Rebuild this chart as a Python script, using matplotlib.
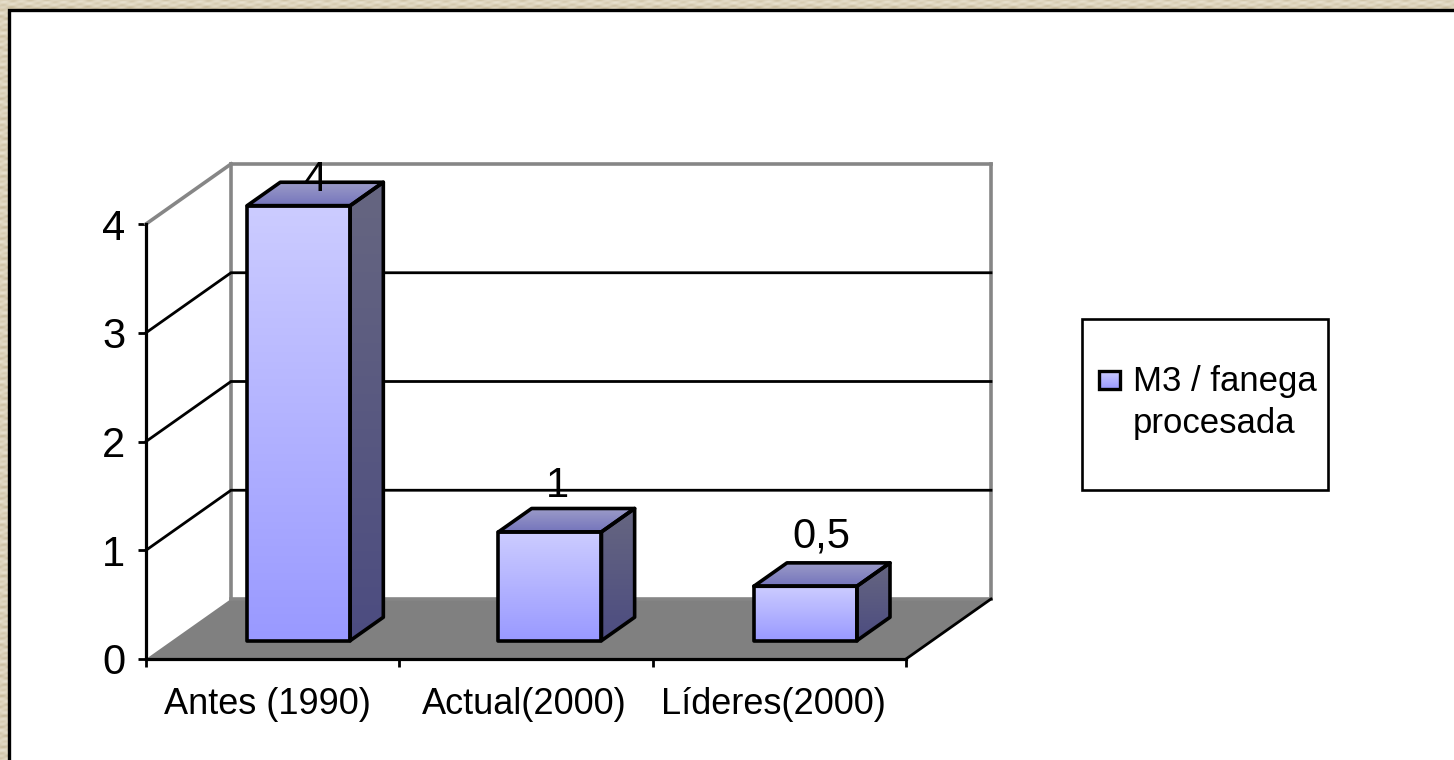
import numpy as np
import matplotlib
matplotlib.use("Agg")
import matplotlib.pyplot as plt
from matplotlib.patches import Polygon, Rectangle
from matplotlib.colors import LinearSegmentedColormap
from matplotlib.transforms import ScaledTranslation

categories = ["Antes (1990)", "Actual(2000)", "Líderes(2000)"]
values = [4, 1, 0.5]
value_labels = ["4", "1", "0,5"]
y_ticks = [0, 1, 2, 3, 4]
series_name = ["M3 / fanega", "procesada"]

W, H = 1454, 760
plt.rcParams["font.family"] = ["Liberation Sans", "DejaVu Sans"]
fig = plt.figure(figsize=(W / 100, H / 100), dpi=100)

# page background, frame and legend, in pixel units
bg = fig.add_axes([0, 0, 1, 1])
bg.axis("off")
xx, yy = np.meshgrid(np.arange(W), np.arange(H))
tex = (np.sin(xx * 0.37 + yy * 0.11) * np.sin(yy * 1.1 + xx * 0.05) + np.sin(yy * 0.63) * 0.6)
bg.imshow(tex, cmap=LinearSegmentedColormap.from_list("paper", ["#c9bc9e", "#dcd2ba", "#e8e1cf"]),
          extent=(0, W, H, 0), aspect="auto", zorder=0)
bg.add_patch(Rectangle((8.5, 9.5), W + 20, H + 20, fc="white", ec="black", lw=2.4, zorder=1))
bg.add_patch(Rectangle((1082, 318.5), 246, 171, fc="white", ec="black", lw=1.9, zorder=2))
bg.imshow(np.linspace(0, 1, 64).reshape(-1, 1),
          cmap=LinearSegmentedColormap.from_list("sw", ["#ccccff", "#9999ff"]),
          extent=(1099, 1120, 389, 371), aspect="auto", zorder=3)
bg.add_patch(Rectangle((1099, 371), 21, 18, fc="none", ec="black", lw=2.4, zorder=4))
bg.set_xlim(0, W)
bg.set_ylim(H, 0)
bg.text(1133, 381, series_name[0], fontsize=25, va="center", ha="left", color="black", zorder=5)
bg.text(1133, 424, series_name[1], fontsize=25, va="center", ha="left", color="black", zorder=5)

# chart: the axes is the front plane of the oblique 3-D box
left, right, base, top = 146, 906, 659, 224
ax = fig.add_axes([left / W, 1 - base / H, (right - left) / W, (base - top) / H])
ax.patch.set_alpha(0)
n = len(categories)
ymax = max(y_ticks)

DX = 85 / ((right - left) / n)
DY = 60 / ((base - top) / ymax)


def proj(x, y, d=0.0):
    return (x + d * DX, y + d * DY)


# walls and floor
ax.add_patch(Polygon([proj(0, 0), proj(n, 0), proj(n, 0, 1), proj(0, 0, 1)], closed=True,
                     fc="#808080", ec="none", zorder=1, clip_on=False))
gray = "#868686"
for a, b in [((0, 0, 1), (n, 0, 1)), ((0, 0, 1), (0, ymax, 1)), ((n, 0, 1), (n, ymax, 1)),
             ((0, ymax, 1), (n, ymax, 1)), ((0, ymax, 0), (0, ymax, 1))]:
    pa, pb = proj(*a), proj(*b)
    ax.plot([pa[0], pb[0]], [pa[1], pb[1]], color=gray, lw=2.6, zorder=2, clip_on=False,
            solid_capstyle="projecting")
pa, pb = proj(n, 0), proj(n, 0, 1)
ax.plot([pa[0], pb[0]], [pa[1], pb[1]], color="black", lw=2.0, zorder=2, clip_on=False)

# gridlines
for t in y_ticks[1:-1]:
    p0, p1, p2 = proj(0, t), proj(0, t, 1), proj(n, t, 1)
    ax.plot([p0[0], p1[0], p2[0]], [p0[1], p1[1], p2[1]], color="black", lw=2.0, zorder=3,
            clip_on=False, solid_joinstyle="miter")

# bars
bar_w = 103 / ((right - left) / n)
d0, dw = 0.306, 0.39
grad = np.linspace(0, 1, 128).reshape(-1, 1)
face_cmap = LinearSegmentedColormap.from_list("face", ["#ccccff", "#9999ff"])
top_cmap = LinearSegmentedColormap.from_list("top", ["#9c9cc8", "#7474bc"])
side_cmap = LinearSegmentedColormap.from_list("side", ["#666680", "#4c4c80"])


def gradient_face(pts, cmap, z):
    xs = [p[0] for p in pts]
    ys = [p[1] for p in pts]
    poly = Polygon(pts, closed=True, fc="none", ec="black", lw=2.6, zorder=z + 1, clip_on=False,
                   joinstyle="round")
    ax.add_patch(poly)
    img = ax.imshow(grad, cmap=cmap, extent=(min(xs), max(xs), min(ys), max(ys)), aspect="auto",
                    zorder=z)
    # an image falls back to the axes box unless given a wider clip box
    img.set_clip_box(fig.bbox)
    img.set_clip_path(poly)


label_dx = [0.5, -6.5, -0.5]      # points, hand placement of the data labels
label_dy = [1.5, 16.0, 19.0]
for i, v in enumerate(values):
    x0 = i + (1 - bar_w) / 2 - (0.008 if i == 1 else 0)
    x1 = x0 + bar_w
    z = 5 + i * 3
    gradient_face([proj(x0, 0, d0), proj(x1, 0, d0), proj(x1, v, d0), proj(x0, v, d0)], face_cmap, z)
    gradient_face([proj(x0, v, d0), proj(x1, v, d0), proj(x1, v, d0 + dw), proj(x0, v, d0 + dw)], top_cmap, z)
    gradient_face([proj(x1, 0, d0), proj(x1, 0, d0 + dw), proj(x1, v, d0 + dw), proj(x1, v, d0)], side_cmap, z)
    lx = proj((x0 + x1) / 2, v, d0 + dw / 2)[0]
    ly = proj((x0 + x1) / 2, v, d0 + dw)[1]
    ax.annotate(value_labels[i], (lx, ly), xytext=(label_dx[i], label_dy[i]),
                textcoords="offset points", ha="center", va="center", fontsize=30,
                color="black", zorder=30, annotation_clip=False)

ax.set_xlim(0, n)
ax.set_ylim(0, ymax)

# axes
for s in ("top", "right"):
    ax.spines[s].set_visible(False)
for s in ("left", "bottom"):
    ax.spines[s].set_linewidth(2.3)
    ax.spines[s].set_zorder(4)
ax.set_yticks(y_ticks)
ax.set_yticklabels([str(t) for t in y_ticks], fontsize=30)
ax.set_xticks(range(n + 1))
ax.set_xticklabels([""] * (n + 1))
ax.set_xticks([i + 0.5 for i in range(n)], minor=True)
ax.set_xticklabels(categories, minor=True, fontsize=26)
ax.tick_params(axis="x", which="major", length=6, width=2.0, direction="out")
ax.tick_params(axis="x", which="minor", length=0, pad=20)
ax.tick_params(axis="y", length=6, width=2.0, direction="out", pad=9)
for lab, sh in zip(ax.get_xticklabels(minor=True), [-4, -1, -4]):
    lab.set_transform(lab.get_transform() + ScaledTranslation(sh / 72, 0, fig.dpi_scale_trans))

fig.savefig("out.png", dpi=100)
